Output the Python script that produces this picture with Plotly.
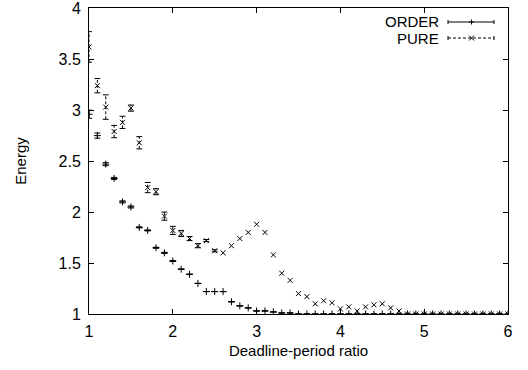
import plotly.graph_objects as go

# ---- data ----
ratio = [1.0, 1.1, 1.2, 1.3, 1.4, 1.5, 1.6, 1.7, 1.8, 1.9,
         2.0, 2.1, 2.2, 2.3, 2.4, 2.5, 2.6, 2.7, 2.8, 2.9,
         3.0, 3.1, 3.2, 3.3, 3.4, 3.5, 3.6, 3.7, 3.8, 3.9,
         4.0, 4.1, 4.2, 4.3, 4.4, 4.5, 4.6, 4.7, 4.8, 4.9,
         5.0, 5.1, 5.2, 5.3, 5.4, 5.5, 5.6, 5.7, 5.8, 5.9, 6.0]

order_energy = [2.96, 2.75, 2.47, 2.33, 2.10, 2.05, 1.85, 1.82, 1.65, 1.60,
                1.52, 1.44, 1.39, 1.30, 1.22, 1.22, 1.22, 1.12, 1.08, 1.06,
                1.03, 1.03, 1.02, 1.01, 1.01, 1.00, 1.00, 1.00, 1.00, 1.00,
                1.00, 1.00, 1.00, 1.00, 1.00, 1.00, 1.00, 1.00, 1.00, 1.00,
                1.00, 1.00, 1.00, 1.00, 1.00, 1.00, 1.00, 1.00, 1.00, 1.00, 1.00]
order_err = [0.04, 0.025, 0.015, 0.01, 0.01, 0.01, 0.005, 0.005, 0.005, 0.005,
             0.005, 0.0, 0.0, 0.0, 0.0, 0.0, 0.0, 0.0, 0.0, 0.0,
             0.0, 0.0, 0.0, 0.0, 0.0, 0.0, 0.0, 0.0, 0.0, 0.0,
             0.0, 0.0, 0.0, 0.0, 0.0, 0.0, 0.0, 0.0, 0.0, 0.0,
             0.0, 0.0, 0.0, 0.0, 0.0, 0.0, 0.0, 0.0, 0.0, 0.0, 0.0]

pure_energy = [3.62, 3.24, 3.03, 2.79, 2.88, 3.02, 2.68, 2.24, 2.20, 1.96,
               1.82, 1.79, 1.74, 1.67, 1.72, 1.62, 1.60, 1.67, 1.74, 1.80,
               1.88, 1.80, 1.58, 1.40, 1.33, 1.20, 1.17, 1.10, 1.13, 1.11,
               1.05, 1.07, 1.03, 1.07, 1.09, 1.10, 1.06, 1.03, 1.00, 1.00,
               1.00, 1.00, 1.00, 1.00, 1.00, 1.00, 1.00, 1.00, 1.00, 1.00, 1.00]
pure_err = [0.15, 0.07, 0.12, 0.06, 0.06, 0.03, 0.06, 0.05, 0.03, 0.04,
            0.04, 0.03, 0.02, 0.02, 0.01, 0.01, 0.0, 0.0, 0.0, 0.0,
            0.0, 0.0, 0.0, 0.0, 0.0, 0.0, 0.0, 0.0, 0.0, 0.0,
            0.0, 0.0, 0.0, 0.0, 0.0, 0.0, 0.0, 0.0, 0.0, 0.0,
            0.0, 0.0, 0.0, 0.0, 0.0, 0.0, 0.0, 0.0, 0.0, 0.0, 0.0]

series_names = ["ORDER", "PURE"]
x_ticks = [1, 2, 3, 4, 5, 6]
y_ticks = [1, 1.5, 2, 2.5, 3, 3.5, 4]

# ---- layout geometry (pixels) ----
W, H = 528, 370
L, R, T, B = 89, 20, 8, 56
PW, PH = W - L - R, H - T - B
FONT = "Liberation Sans, Arial, Helvetica, sans-serif"
FS = 16
CAP_HALF = 0.035  # half cap width in x data units (~3 px)
KEY_DASH = "3px,2px"


def px(xp):
    return (xp - L) / PW


def py(yp):
    return (H - B - yp) / PH


fig = go.Figure()

# ORDER: solid error bars
fig.add_trace(go.Scatter(
    x=ratio, y=order_energy, mode="markers", name=series_names[0],
    marker=dict(symbol="cross-thin", size=5, line=dict(width=1, color="black"), color="black"),
    error_y=dict(type="data", array=order_err, visible=True, color="black", thickness=1, width=3),
    showlegend=False, hoverinfo="skip",
))

# PURE: dashed error bars built from the data arrays
bar_x, bar_y, cap_x, cap_y = [], [], [], []
for xv, yv, ev in zip(ratio, pure_energy, pure_err):
    if ev <= 0:
        continue
    bar_x += [xv, xv, None]
    bar_y += [yv - ev, yv + ev, None]
    for yc in (yv - ev, yv + ev):
        cap_x += [xv - CAP_HALF, xv + CAP_HALF, None]
        cap_y += [yc, yc, None]

fig.add_trace(go.Scatter(
    x=bar_x, y=bar_y, mode="lines", line=dict(color="black", width=1, dash=KEY_DASH),
    showlegend=False, hoverinfo="skip",
))
fig.add_trace(go.Scatter(
    x=cap_x, y=cap_y, mode="lines", line=dict(color="black", width=1),
    showlegend=False, hoverinfo="skip",
))
fig.add_trace(go.Scatter(
    x=ratio, y=pure_energy, mode="markers", name=series_names[1],
    marker=dict(symbol="x-thin", size=5, line=dict(width=1, color="black"), color="black"),
    showlegend=False, hoverinfo="skip",
))

# ---- custom gnuplot-style key ----
shapes = []
annotations = []
key_rows = [22, 38]
for i, (name, yrow) in enumerate(zip(series_names, key_rows)):
    annotations.append(dict(
        x=px(440), y=py(yrow), xref="paper", yref="paper", text=name,
        showarrow=False, xanchor="right", yanchor="middle",
        borderpad=0, valign="middle",
        font=dict(family=FONT, size=15, color="black"),
    ))
    x0, x1, xm = 448, 494, 471.5
    dash = "solid" if i == 0 else KEY_DASH
    shapes.append(dict(type="line", xref="paper", yref="paper",
                       x0=px(x0), x1=px(x1), y0=py(yrow), y1=py(yrow),
                       line=dict(color="black", width=1, dash=dash)))
    for xc in (x0, x1):
        shapes.append(dict(type="line", xref="paper", yref="paper",
                           x0=px(xc), x1=px(xc), y0=py(yrow - 2), y1=py(yrow + 2),
                           line=dict(color="black", width=1)))
    if i == 0:
        shapes.append(dict(type="line", xref="paper", yref="paper",
                           x0=px(xm - 2.5), x1=px(xm + 2.5), y0=py(yrow), y1=py(yrow),
                           line=dict(color="black", width=1)))
        shapes.append(dict(type="line", xref="paper", yref="paper",
                           x0=px(xm), x1=px(xm), y0=py(yrow - 2.5), y1=py(yrow + 2.5),
                           line=dict(color="black", width=1)))
    else:
        shapes.append(dict(type="line", xref="paper", yref="paper",
                           x0=px(xm - 2.5), x1=px(xm + 2.5), y0=py(yrow - 2.5), y1=py(yrow + 2.5),
                           line=dict(color="black", width=1)))
        shapes.append(dict(type="line", xref="paper", yref="paper",
                           x0=px(xm - 2.5), x1=px(xm + 2.5), y0=py(yrow + 2.5), y1=py(yrow - 2.5),
                           line=dict(color="black", width=1)))

axis_common = dict(
    showline=True, linecolor="black", linewidth=1, mirror="allticks",
    ticks="inside", ticklen=5, tickwidth=1, tickcolor="black",
    showgrid=False, zeroline=False, automargin=False,
    ticklabeloverflow="allow",
    tickfont=dict(family=FONT, size=FS, color="black"),
)

fig.update_layout(
    width=W, height=H,
    margin=dict(l=L, r=R, t=T, b=B, autoexpand=False),
    paper_bgcolor="white", plot_bgcolor="white",
    font=dict(family=FONT, size=FS, color="black"),
    hovermode=False,
    xaxis=dict(range=[1, 6], tickvals=x_ticks, ticktext=[str(v) for v in x_ticks],
               ticklabelstandoff=3,
               title=dict(text="Deadline-period ratio", font=dict(family=FONT, size=15), standoff=6),
               **axis_common),
    yaxis=dict(range=[1, 4.002], tickvals=y_ticks, ticktext=[f"{v:g}" for v in y_ticks],
               ticklabelstandoff=4,
               title=dict(text="Energy", font=dict(family=FONT, size=15), standoff=28),
               **axis_common),
    shapes=shapes, annotations=annotations,
    showlegend=False,
)

fig.write_html("out.html", config={"displayModeBar": False},
               post_script="document.body.style.margin='0';document.body.style.padding='0';")
